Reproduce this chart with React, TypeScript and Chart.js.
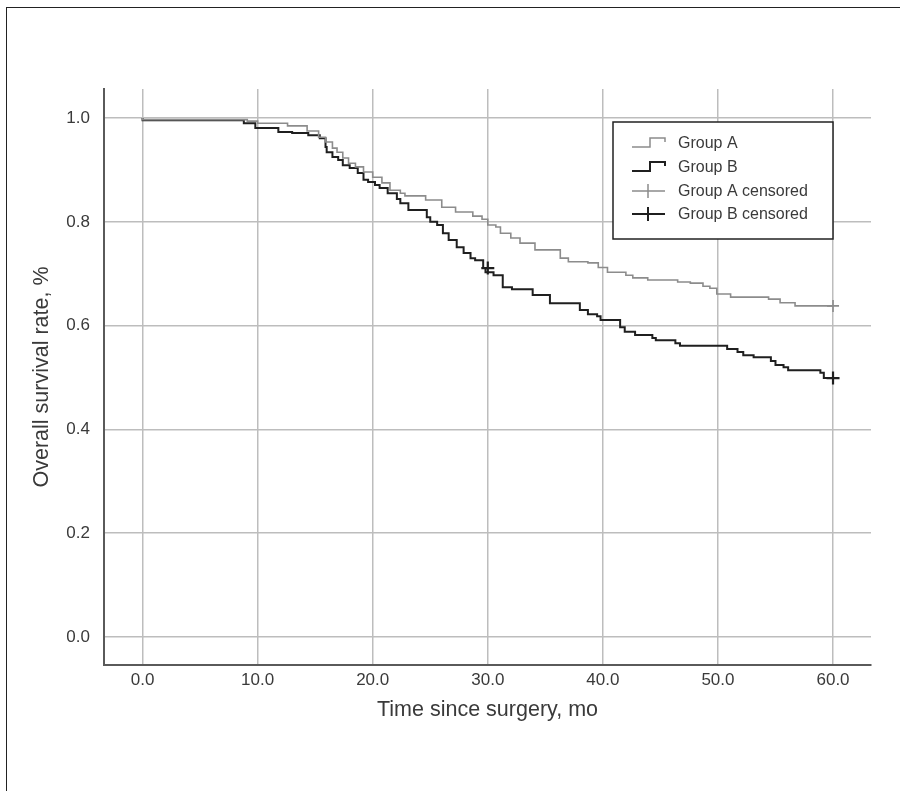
import React, { useEffect, useRef } from "react";
import { Chart, registerables } from "chart.js";

Chart.register(...registerables);

// Kaplan-Meier step data: time of event (months) and survival after event
const timesA = [0, 9.1, 10.0, 12.6, 14.3, 15.3, 15.9, 16.5, 16.9, 17.4, 17.9, 18.5, 19.2, 20.0, 20.8, 21.5, 22.4, 22.8, 24.6, 26.0, 27.2, 28.7, 29.5, 30.0, 30.7, 31.1, 32.0, 32.8, 34.1, 36.3, 37.0, 38.7, 39.6, 40.4, 42.0, 42.6, 43.9, 46.5, 47.6, 48.7, 49.3, 49.9, 51.1, 54.4, 55.4, 56.7, 57.8, 60.0];
const survA = [1.0, 0.997, 0.994, 0.99, 0.985, 0.975, 0.963, 0.954, 0.942, 0.934, 0.923, 0.913, 0.906, 0.896, 0.886, 0.875, 0.861, 0.855, 0.85, 0.842, 0.828, 0.819, 0.811, 0.805, 0.794, 0.79, 0.778, 0.769, 0.759, 0.746, 0.73, 0.723, 0.721, 0.712, 0.703, 0.697, 0.692, 0.688, 0.684, 0.682, 0.676, 0.672, 0.661, 0.655, 0.651, 0.644, 0.638, 0.638];

const timesB = [0, 8.8, 9.8, 11.8, 13.0, 14.4, 15.4, 15.9, 16.0, 16.5, 17.0, 17.4, 18.0, 18.7, 19.2, 19.6, 20.2, 20.6, 21.3, 22.1, 22.4, 23.1, 24.7, 25.0, 25.6, 26.1, 26.6, 27.3, 27.9, 28.5, 28.9, 29.6, 29.8, 30.5, 31.3, 32.1, 33.9, 35.4, 38.0, 38.7, 39.5, 39.8, 41.5, 41.9, 42.8, 44.3, 44.6, 46.3, 46.7, 50.8, 51.7, 52.2, 53.1, 54.6, 55.0, 55.7, 56.1, 58.9, 59.2, 59.6, 60.0];
const survB = [1.0, 0.996, 0.99, 0.981, 0.973, 0.971, 0.967, 0.961, 0.944, 0.934, 0.925, 0.919, 0.909, 0.904, 0.894, 0.881, 0.877, 0.871, 0.865, 0.855, 0.844, 0.836, 0.823, 0.809, 0.8, 0.794, 0.778, 0.765, 0.751, 0.74, 0.73, 0.726, 0.711, 0.703, 0.697, 0.674, 0.67, 0.659, 0.643, 0.63, 0.622, 0.618, 0.611, 0.597, 0.588, 0.582, 0.576, 0.572, 0.566, 0.561, 0.555, 0.549, 0.543, 0.539, 0.532, 0.524, 0.52, 0.514, 0.509, 0.499, 0.499];

const censorTimesA = [60];
const censorSurvA = [0.638];
const censorTimesB = [30, 60];
const censorSurvB = [0.711, 0.499];

const xTicks = [0, 10, 20, 30, 40, 50, 60];
const yTicks = [0, 0.2, 0.4, 0.6, 0.8, 1.0];
const legendLabels = ["Group A", "Group B", "Group A censored", "Group B censored"];

const GRAY = "#8c8c8c";
const DARK = "#1f1f1f";
const TEXT = "#3a3a3a";
const FONT = "'Liberation Sans', Arial, sans-serif";

const zip = (xs: number[], ys: number[]) => xs.map((x, i) => ({ x, y: ys[i] }));

const legendPlugin = {
  id: "kmLegend",
  afterDraw(chart: any) {
    const ctx = chart.ctx as CanvasRenderingContext2D;
    const area = chart.chartArea;
    const left = area.right - 258;
    const top = area.top + 33;
    const w = 220;
    const h = 117;
    ctx.save();
    ctx.fillStyle = "#ffffff";
    ctx.fillRect(left, top, w, h);
    ctx.strokeStyle = "#222";
    ctx.lineWidth = 1.5;
    ctx.strokeRect(left, top, w, h);
    const rows = [21, 45, 69, 92];
    const sx = left + 19;
    legendLabels.forEach((label, i) => {
      const c = top + rows[i];
      const isA = i % 2 === 0;
      ctx.strokeStyle = isA ? GRAY : DARK;
      ctx.lineWidth = isA ? 1.5 : 2;
      ctx.beginPath();
      if (i < 2) {
        ctx.moveTo(sx, c + 4);
        ctx.lineTo(sx + 18, c + 4);
        ctx.lineTo(sx + 18, c - 5);
        ctx.lineTo(sx + 33, c - 5);
        ctx.lineTo(sx + 33, c - 1);
      } else {
        ctx.moveTo(sx, c);
        ctx.lineTo(sx + 33, c);
        ctx.moveTo(sx + 16, c - 7);
        ctx.lineTo(sx + 16, c + 7);
      }
      ctx.stroke();
      ctx.fillStyle = TEXT;
      ctx.font = `16px ${FONT}`;
      ctx.textBaseline = "middle";
      ctx.textAlign = "left";
      ctx.fillText(label, left + 65, c + 1);
    });
    ctx.restore();
  },
};

export default function App() {
  const ref = useRef<HTMLCanvasElement | null>(null);
  useEffect(() => {
    if (!ref.current) return;
    const chart = new Chart(ref.current, {
      type: "line",
      data: {
        datasets: [
          {
            label: "Group A",
            data: zip(timesA, survA),
            borderColor: GRAY,
            borderWidth: 1.6,
            stepped: "after",
            pointRadius: 0,
            fill: false,
          },
          {
            label: "Group B",
            data: zip(timesB, survB),
            borderColor: DARK,
            borderWidth: 2,
            stepped: "after",
            pointRadius: 0,
            fill: false,
          },
          {
            label: "Group A censored",
            data: zip(censorTimesA, censorSurvA),
            showLine: false,
            pointStyle: "cross",
            pointRadius: 6,
            pointBorderWidth: 1.6,
            pointBorderColor: GRAY,
            borderColor: GRAY,
          },
          {
            label: "Group B censored",
            data: zip(censorTimesB, censorSurvB),
            showLine: false,
            pointStyle: "cross",
            pointRadius: 6.5,
            pointBorderWidth: 2.2,
            pointBorderColor: DARK,
            borderColor: DARK,
          },
        ],
      },
      options: {
        animation: false,
        responsive: false,
        maintainAspectRatio: false,
        layout: { padding: { top: 89, right: 29, left: 0, bottom: 0 } },
        plugins: { legend: { display: false }, tooltip: { enabled: false } },
        scales: {
          x: {
            type: "linear",
            min: -3.35,
            max: 63.3,
            afterBuildTicks: (s: any) => {
              s.ticks = xTicks.map((v) => ({ value: v }));
            },
            afterFit: (s: any) => {
              s.height = 126;
            },
            ticks: {
              callback: (v: any) => Number(v).toFixed(1),
              font: { family: FONT, size: 17 },
              color: TEXT,
              padding: 5,
              maxRotation: 0,
            },
            grid: { color: "#bdbdbd", lineWidth: 1.5, drawTicks: false },
            border: { display: true, color: "#5a5a5a", width: 2 },
            title: {
              display: true,
              text: "Time since surgery, mo",
              font: { family: FONT, size: 21.5 },
              color: TEXT,
              padding: { top: 0, bottom: 68 },
            },
          },
          y: {
            type: "linear",
            min: -0.054,
            max: 1.056,
            afterBuildTicks: (s: any) => {
              s.ticks = yTicks.map((v) => ({ value: v }));
            },
            afterFit: (s: any) => {
              s.width = 104;
            },
            ticks: {
              callback: (v: any) => Number(v).toFixed(1),
              font: { family: FONT, size: 17 },
              color: TEXT,
              padding: 14,
            },
            grid: { color: "#bdbdbd", lineWidth: 1.5, drawTicks: false },
            border: { display: true, color: "#5a5a5a", width: 2 },
            title: {
              display: true,
              text: "Overall survival rate, %",
              font: { family: FONT, size: 21.5 },
              color: TEXT,
              padding: { top: 29, bottom: 0 },
            },
          },
        },
      },
      plugins: [legendPlugin],
    });
    return () => chart.destroy();
  }, []);

  return (
    <div style={{ position: "fixed", left: 0, top: 0, width: 900, height: 791, background: "#fff", overflow: "hidden" }}>
      <div
        style={{
          position: "absolute",
          left: 6,
          top: 7,
          width: 1000,
          height: 1000,
          borderLeft: "1.5px solid #222",
          borderTop: "1.5px solid #222",
        }}
      />
      <canvas ref={ref} width={900} height={791} style={{ position: "absolute", left: 0, top: 0, width: 900, height: 791 }} />
    </div>
  );
}
